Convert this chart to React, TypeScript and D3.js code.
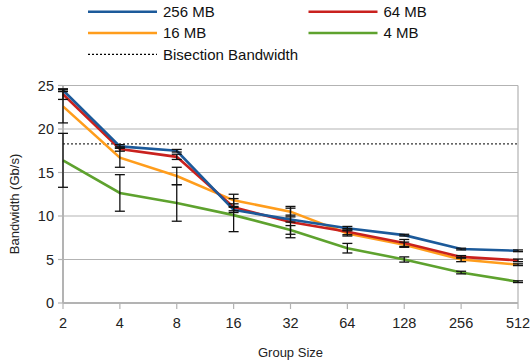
import React from 'react';
import * as d3 from 'd3';

// group sizes (categories on the x axis)
const groups = ['2', '4', '8', '16', '32', '64', '128', '256', '512'];

// bandwidth in Gb/s
const mb256 = [24.45, 18.0, 17.5, 10.7, 9.6, 8.6, 7.8, 6.2, 6.0];
const mb64 = [24.0, 17.7, 16.8, 11.0, 9.3, 8.2, 6.9, 5.3, 4.9];
const mb16 = [22.6, 16.7, 14.6, 11.8, 10.5, 8.0, 6.7, 5.0, 4.4];
const mb4 = [16.4, 12.65, 11.5, 10.1, 8.4, 6.3, 5.0, 3.5, 2.45];

// error bar half-widths
const err256 = [0.15, 0.2, 0.15, 0.3, 0.3, 0.2, 0.1, 0.1, 0.1];
const err64 = [0.6, 0.25, 0.3, 0.4, 1.8, 0.35, 0.4, 0.15, 0.15];
const err16 = [1.9, 1.1, 1.0, 0.7, 0.4, 0.3, 0.3, 0.25, 0.1];
const err4 = [3.1, 2.1, 2.1, 1.9, 0.5, 0.55, 0.3, 0.15, 0.1];

const bisection = 18.3;
const yTicks = [0, 5, 10, 15, 20, 25];

const series = [
  { name: '256 MB', values: mb256, err: err256, color: '#1c5a9a' },
  { name: '64 MB', values: mb64, err: err64, color: '#c9211e' },
  { name: '16 MB', values: mb16, err: err16, color: '#ff9d1c' },
  { name: '4 MB', values: mb4, err: err4, color: '#5ea22e' },
];

const W = 531;
const H = 364;
const m = { left: 63, right: 13, top: 85.5, bottom: 61 };
const font = '"Liberation Sans", Arial, sans-serif';

export default function App() {
  const x = d3.scalePoint<string>().domain(groups).range([m.left, W - m.right]);
  const y = d3.scaleLinear().domain([0, 25]).range([H - m.bottom, m.top]);

  const line = d3
    .line<number>()
    .x((_, i) => x(groups[i]) as number)
    .y((d) => y(d));

  const x0 = m.left;
  const x1 = W - m.right;
  const y0 = H - m.bottom;

  // legend: two columns, third row for the dotted line
  const legendItems = [
    ...series.map((s) => ({ name: s.name, color: s.color, dash: '' })),
    { name: 'Bisection Bandwidth', color: '#000', dash: '2,2' },
  ];

  return (
    <div style={{ position: 'absolute', left: 0, top: 0 }}>
      <svg width={W} height={H} style={{ display: 'block', background: '#fff' }} fontFamily={font}>
        {/* gridlines */}
        {yTicks.map((t) => (
          <line key={t} x1={x0} x2={x1} y1={y(t)} y2={y(t)} stroke="#b3b3b3" strokeWidth={1.2} />
        ))}
        {/* axes */}
        <line x1={x0} x2={x0} y1={m.top} y2={y0} stroke="#b3b3b3" strokeWidth={2} />
        <line x1={x1} x2={x1} y1={m.top} y2={y0} stroke="#b3b3b3" strokeWidth={1.2} />
        <line x1={x0} x2={x1} y1={y0} y2={y0} stroke="#b3b3b3" strokeWidth={2} />
        {yTicks.map((t) => (
          <g key={t}>
            <line x1={x0 - 5} x2={x0} y1={y(t)} y2={y(t)} stroke="#b3b3b3" strokeWidth={1.2} />
            <text x={x0 - 9} y={y(t)} dy="0.35em" textAnchor="end" fontSize={14.5} fill="#222">
              {t}
            </text>
          </g>
        ))}
        {groups.map((g) => (
          <g key={g}>
            <line x1={x(g)} x2={x(g)} y1={y0} y2={y0 + 6} stroke="#b3b3b3" strokeWidth={1.2} />
            <text x={x(g)} y={y0 + 25} textAnchor="middle" fontSize={14.5} fill="#222">
              {g}
            </text>
          </g>
        ))}
        <text x={(x0 + x1) / 2} y={357} textAnchor="middle" fontSize={13} fill="#222">
          Group Size
        </text>
        <text
          transform={`translate(19,204) rotate(-90)`}
          textAnchor="middle"
          fontSize={13}
          fill="#222"
        >
          Bandwidth (Gb/s)
        </text>

        {/* bisection bandwidth */}
        <line x1={x0} x2={x1} y1={y(bisection)} y2={y(bisection)} stroke="#333" strokeWidth={1.2} strokeDasharray="2,2" />

        {/* series lines */}
        {series
          .slice()
          .reverse()
          .map((s) => (
            <path key={s.name} d={line(s.values) || ''} fill="none" stroke={s.color} strokeWidth={2.6} />
          ))}

        {/* error bars */}
        {series.map((s) =>
          s.values.map((v, i) => {
            const cx = x(groups[i]) as number;
            const hi = y(v + s.err[i]);
            const lo = y(v - s.err[i]);
            return (
              <g key={s.name + i} stroke="#111" strokeWidth={1.3}>
                <line x1={cx} x2={cx} y1={hi} y2={lo} />
                <line x1={cx - 5} x2={cx + 5} y1={hi} y2={hi} />
                <line x1={cx - 5} x2={cx + 5} y1={lo} y2={lo} />
              </g>
            );
          })
        )}

        {/* legend */}
        {legendItems.map((it, i) => {
          const col = i < 4 ? i % 2 : 0;
          const row = Math.floor(i / 2);
          const lx = 88 + col * 220.5;
          const ly = 11.7 + row * 21.3;
          return (
            <g key={it.name}>
              <line
                x1={lx}
                x2={lx + 69}
                y1={ly}
                y2={ly}
                stroke={it.color}
                strokeWidth={it.dash ? 1.2 : 2.6}
                strokeDasharray={it.dash}
              />
              <text x={lx + 75} y={ly} dy="0.35em" fontSize={15} fill="#111">
                {it.name}
              </text>
            </g>
          );
        })}
      </svg>
    </div>
  );
}
